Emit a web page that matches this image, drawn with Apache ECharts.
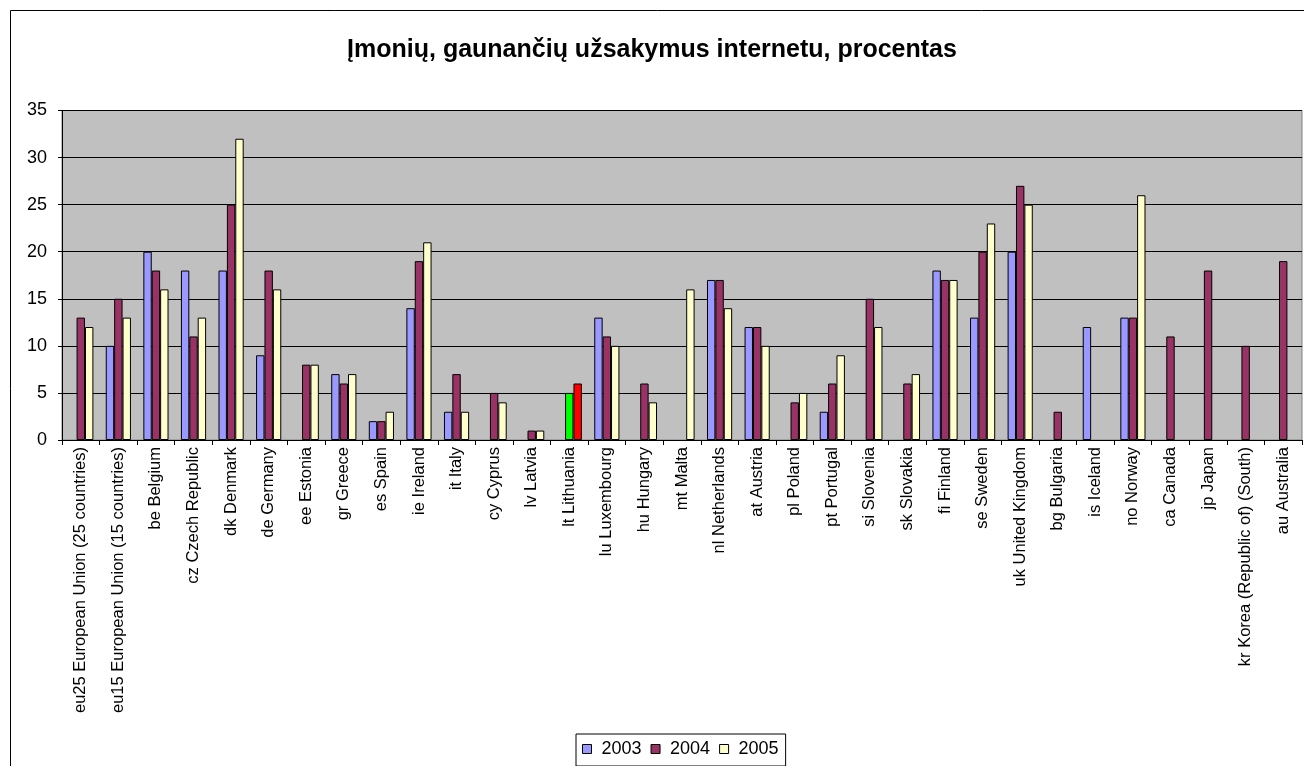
<!DOCTYPE html>
<html>
<head>
<meta charset="utf-8">
<script src="https://cdn.jsdelivr.net/npm/echarts@6/dist/echarts.min.js"></script>
<style>
  html, body { margin: 0; padding: 0; background: #ffffff; }
  #chart { width: 1304px; height: 766px; }
</style>
</head>
<body>
<div id="chart"></div>
<script>
// Country categories (Eurostat-style codes with names)
const categories = [
  'eu25 European Union (25 countries)', 'eu15 European Union (15 countries)',
  'be Belgium', 'cz Czech Republic', 'dk Denmark', 'de Germany', 'ee Estonia',
  'gr Greece', 'es Spain', 'ie Ireland', 'it Italy', 'cy Cyprus', 'lv Latvia',
  'lt Lithuania', 'lu Luxembourg', 'hu Hungary', 'mt Malta', 'nl Netherlands',
  'at Austria', 'pl Poland', 'pt Portugal', 'si Slovenia', 'sk Slovakia',
  'fi Finland', 'se Sweden', 'uk United Kingdom', 'bg Bulgaria', 'is Iceland',
  'no Norway', 'ca Canada', 'jp Japan', 'kr Korea (Republic of) (South)', 'au Australia'
];

// Share of enterprises receiving orders online, %
const v2003 = [null, 10, 20, 18, 18, 9, null, 7, 2, 14, 3, null, null, null, 13, null, null,
  17, 12, null, 3, null, null, 18, 13, 20, null, 12, 13, null, null, null, null];
const v2004 = [13, 15, 18, 11, 25, 18, 8, 6, 2, 19, 7, 5, 1, 5, 11, 6, null,
  17, 12, 4, 6, 15, 6, 17, 20, 27, 3, null, 13, 11, 18, 10, 19];
const v2005 = [12, 13, 16, 13, 32, 16, 8, 7, 3, 21, 3, 4, 1, 6, 10, 4, 16,
  14, 10, 5, 9, 12, 7, 17, 23, 25, null, null, 26, null, null, null, null];

const seriesNames = ['2003', '2004', '2005'];
const yTicks = { min: 0, max: 35, step: 5 };

const titleText = 'Įmonių, gaunančių užsakymus internetu, procentas';

// Lithuania is highlighted with its own colours
const highlightIndex = categories.indexOf('lt Lithuania');
const highlightColors = { '2004': '#00ff00', '2005': '#ff0000' };

const colors = ['#9999ff', '#993366', '#ffffcc'];
const FONT = 'Liberation Sans, Arial, sans-serif';

function buildData(values, name) {
  return values.map((v, i) => {
    if (i === highlightIndex && highlightColors[name] && v != null) {
      return { value: v, itemStyle: { color: highlightColors[name] } };
    }
    return v;
  });
}

const chart = echarts.init(document.getElementById('chart'), null, { renderer: 'canvas' });

const option = {
  animation: false,
  backgroundColor: '#ffffff',
  color: colors,
  textStyle: { fontFamily: FONT, color: '#000' },
  title: {
    text: titleText,
    left: 'center',
    top: 33,
    textStyle: { fontFamily: FONT, fontSize: 25, fontWeight: 'bold', color: '#000' }
  },
  legend: {
    data: seriesNames,
    left: 576,
    top: 734,
    padding: [6, 7, 8, 6],
    itemGap: 9,
    itemWidth: 9,
    itemHeight: 9,
    icon: 'rect',
    borderColor: '#000',
    borderWidth: 1,
    backgroundColor: '#fff',
    itemStyle: { borderColor: '#000', borderWidth: 1 },
    textStyle: { fontFamily: FONT, fontSize: 18, color: '#000', padding: [0, 0, 0, 5] }
  },
  grid: {
    left: 62,
    right: 2,
    top: 110.5,
    bottom: 326,
    show: true,
    backgroundColor: '#c0c0c0',
    borderColor: '#808080',
    borderWidth: 1
  },
  xAxis: {
    type: 'category',
    data: categories,
    boundaryGap: true,
    axisLine: { show: true, lineStyle: { color: '#000', width: 1 } },
    axisTick: { show: true, interval: 0, length: 5, lineStyle: { color: '#000' } },
    axisLabel: {
      interval: 0,
      rotate: 90,
      margin: 7,
      fontFamily: FONT,
      fontSize: 16.5,
      color: '#000'
    },
    splitLine: { show: false }
  },
  yAxis: {
    type: 'value',
    min: yTicks.min,
    max: yTicks.max,
    interval: yTicks.step,
    axisLine: { show: true, lineStyle: { color: '#000', width: 1 } },
    axisTick: { show: true, length: 4, lineStyle: { color: '#000' } },
    axisLabel: { margin: 15, fontFamily: FONT, fontSize: 18, color: '#000' },
    splitLine: { show: true, lineStyle: { color: '#000', width: 1 } }
  },
  series: seriesNames.map((name, k) => ({
    name: name,
    type: 'bar',
    data: buildData([v2003, v2004, v2005][k], name),
    barGap: '0%',
    barCategoryGap: '33%',
    itemStyle: { borderColor: '#000', borderWidth: 1 }
  })),
  graphic: [{
    type: 'rect',
    shape: { x: 10.5, y: 10.5, width: 1310, height: 800 },
    style: { fill: null, stroke: '#000', lineWidth: 1 },
    silent: true,
    z: 100
  }]
};

chart.setOption(option);
</script>
</body>
</html>
